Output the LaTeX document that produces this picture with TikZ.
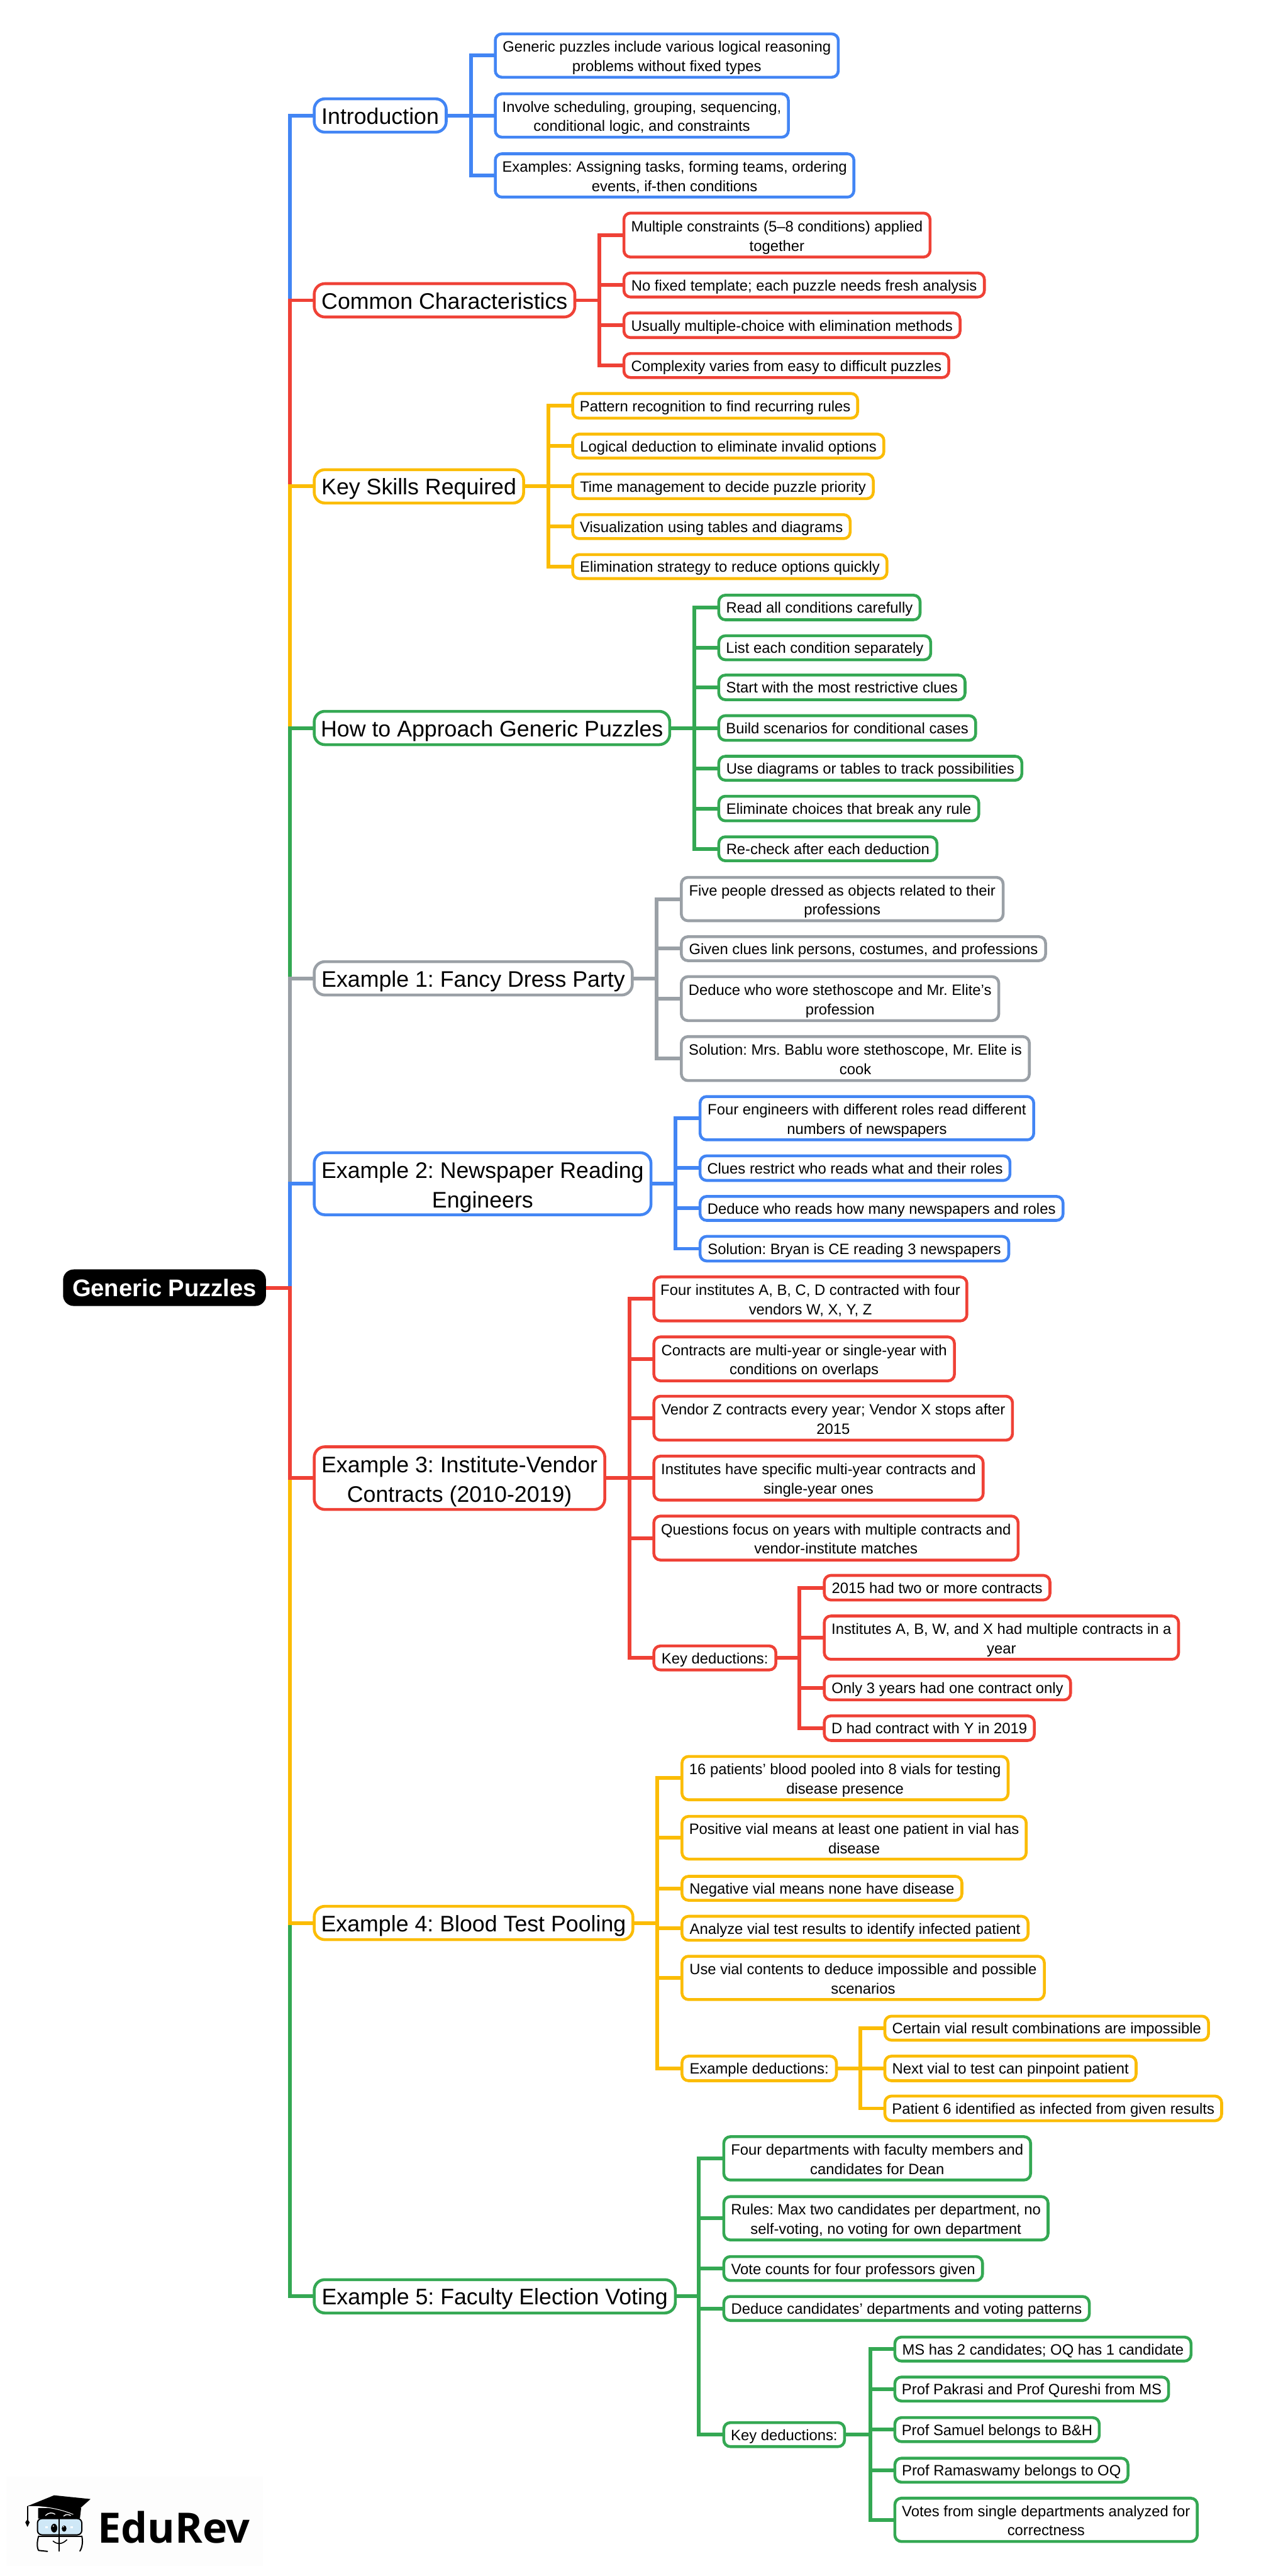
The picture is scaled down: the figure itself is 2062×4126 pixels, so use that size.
\documentclass[tikz,border=0pt]{standalone}
\usepackage{fontspec}
\setmainfont{Liberation Sans}
\newfontfamily\logofont{Open Sans}
\frenchspacing
\definecolor{cblue}{HTML}{4285F4}
\definecolor{cred}{HTML}{EF4136}
\definecolor{cyel}{HTML}{FBBC04}
\definecolor{cgrn}{HTML}{34A853}
\definecolor{cgry}{HTML}{9AA0A6}
\definecolor{lens}{HTML}{CFE8F7}
\definecolor{paleback}{HTML}{FDFDFD}
\newcommand\lnst{\rule[-.21\baselineskip]{0pt}{\baselineskip}}
\newcommand\tw{\rule{0pt}{.85\baselineskip}}
\newcommand\nl{\\\lnst}
\newcommand\bx[7]{\node[#2,minimum width={(#4-#3-4.6)*1pt},minimum height={(#6-#5-4.6)*1pt}] (#1) at ({(#3+#4)/2},{(#5+#6)/2}) {#7};}
\newcommand\lk[4]{\coordinate (busx) at (#4,0); \draw[link,#1] (#2.east) -- (busx |- #2.east) |- (#3.west);}
\tikzset{
  x=1pt,y=-1pt,
  basebox/.style={draw,fill=white,line width=4.6pt,inner sep=0pt,outer sep=0pt,align=center,text=black,execute at begin node=\lnst},
  mainbox/.style={basebox,rounded corners=17pt,font=\fontsize{36}{47}\selectfont},
  leaf/.style={basebox,rounded corners=10.5pt,font=\fontsize{24}{31}\selectfont},
  rootbox/.style={fill=black,text=white,rounded corners=17pt,inner sep=0pt,outer sep=0pt,font=\fontsize{38.5}{47}\bfseries\selectfont,execute at begin node=\lnst},
  link/.style={line width=6pt},
  blueb/.style={draw=cblue},redb/.style={draw=cred},yelb/.style={draw=cyel},grnb/.style={draw=cgrn},gryb/.style={draw=cgry},
  logoline/.style={draw=black,line width=1.6pt,line cap=round}
}
\begin{document}
\begin{tikzpicture}
\path[use as bounding box] (0,0) rectangle (2062,4126);
% logo backdrop
\fill[fill=paleback] (10,3967) rectangle (421,4110);
% nodes
\node[rootbox,minimum width=325pt,minimum height=58.5pt] (root) at (263.5,2062.5) {Generic Puzzles};
\bx{intro}{mainbox,blueb}{501}{717}{156}{214}{Introduction}
\bx{common}{mainbox,redb}{501}{923}{452}{510}{Common Characteristics}
\bx{skills}{mainbox,yelb}{501}{841}{750}{808}{Key Skills Required}
\bx{howto}{mainbox,grnb}{501}{1075}{1137}{1195}{How to Approach Generic Puzzles}
\bx{exa}{mainbox,gryb}{501}{1015}{1538}{1596}{Example 1: Fancy Dress Party}
\bx{exb}{mainbox,blueb}{501}{1045}{1844}{1948}{\tw Example 2: Newspaper Reading\nl Engineers}
\bx{exc}{mainbox,redb}{501}{971}{2315}{2420}{\tw Example 3: Institute-Vendor\nl Contracts (2010-2019)}
\bx{exd}{mainbox,yelb}{501}{1016}{3051}{3109}{Example 4: Blood Test Pooling}
\bx{exe}{mainbox,grnb}{501}{1084}{3649}{3707}{Example 5: Faculty Election Voting}
% intro
\bx{ia}{leaf,blueb}{791}{1345}{52}{126}{\tw Generic puzzles include various logical reasoning\nl problems without fixed types}
\bx{ib}{leaf,blueb}{791}{1265}{148}{222}{\tw Involve scheduling, grouping, sequencing,\nl conditional logic, and constraints}
\bx{ic}{leaf,blueb}{791}{1370}{244}{318}{\tw Examples: Assigning tasks, forming teams, ordering\nl events, if-then conditions}
% common
\bx{ca}{leaf,redb}{997}{1492}{339}{414}{\tw Multiple constraints (5–8 conditions) applied\nl together}
\bx{cb}{leaf,redb}{997}{1579}{435}{478}{No fixed template; each puzzle needs fresh analysis}
\bx{cc}{leaf,redb}{997}{1540}{499}{543}{Usually multiple-choice with elimination methods}
\bx{cd}{leaf,redb}{997}{1522}{564}{607}{Complexity varies from easy to difficult puzzles}
% skills
\bx{ka}{leaf,yelb}{915}{1376}{628}{672}{Pattern recognition to find recurring rules}
\bx{kb}{leaf,yelb}{915}{1418}{693}{736}{Logical deduction to eliminate invalid options}
\bx{kc}{leaf,yelb}{915}{1401}{757}{801}{Time management to decide puzzle priority}
\bx{kd}{leaf,yelb}{915}{1364}{822}{865}{Visualization using tables and diagrams}
\bx{ke}{leaf,yelb}{915}{1423}{886}{929}{Elimination strategy to reduce options quickly}
% howto
\bx{ha}{leaf,grnb}{1149}{1476}{951}{995}{Read all conditions carefully}
\bx{hb}{leaf,grnb}{1149}{1493}{1016}{1059}{List each condition separately}
\bx{hc}{leaf,grnb}{1149}{1548}{1079}{1123}{Start with the most restrictive clues}
\bx{hd}{leaf,grnb}{1149}{1565}{1144}{1188}{Build scenarios for conditional cases}
\bx{he}{leaf,grnb}{1149}{1639}{1209}{1252}{Use diagrams or tables to track possibilities}
\bx{hf}{leaf,grnb}{1149}{1570}{1273}{1317}{Eliminate choices that break any rule}
\bx{hg}{leaf,grnb}{1149}{1503}{1338}{1381}{Re-check after each deduction}
% example 1
\bx{ea}{leaf,gryb}{1089}{1609}{1403}{1477}{\tw Five people dressed as objects related to their\nl professions}
\bx{eb}{leaf,gryb}{1089}{1677}{1498}{1541}{Given clues link persons, costumes, and professions}
\bx{ec}{leaf,gryb}{1089}{1602}{1562}{1637}{\tw Deduce who wore stethoscope and Mr. Elite’s\nl profession}
\bx{ed}{leaf,gryb}{1089}{1651}{1658}{1733}{\tw Solution: Mrs. Bablu wore stethoscope, Mr. Elite is\nl cook}
% example 2
\bx{na}{leaf,blueb}{1119}{1658}{1754}{1828}{\tw Four engineers with different roles read different\nl numbers of newspapers}
\bx{nb}{leaf,blueb}{1119}{1620}{1849}{1893}{Clues restrict who reads what and their roles}
\bx{nc}{leaf,blueb}{1119}{1705}{1914}{1957}{Deduce who reads how many newspapers and roles}
\bx{nd}{leaf,blueb}{1119}{1618}{1978}{2022}{Solution: Bryan is CE reading 3 newspapers}
% example 3
\bx{pa}{leaf,redb}{1045}{1551}{2043}{2118}{\tw Four institutes A, B, C, D contracted with four\nl vendors W, X, Y, Z}
\bx{pb}{leaf,redb}{1045}{1531}{2139}{2214}{\tw Contracts are multi-year or single-year with\nl conditions on overlaps}
\bx{pc}{leaf,redb}{1045}{1624}{2234}{2309}{\tw Vendor Z contracts every year; Vendor X stops after\nl 2015}
\bx{pd}{leaf,redb}{1045}{1577}{2330}{2405}{\tw Institutes have specific multi-year contracts and\nl single-year ones}
\bx{pe}{leaf,redb}{1045}{1633}{2426}{2501}{\tw Questions focus on years with multiple contracts and\nl vendor-institute matches}
\bx{pf}{leaf,redb}{1045}{1245}{2634}{2677}{Key deductions:}
\bx{qa}{leaf,redb}{1318}{1684}{2521}{2565}{2015 had two or more contracts}
\bx{qb}{leaf,redb}{1318}{1890}{2586}{2660}{\tw Institutes A, B, W, and X had multiple contracts in a\nl year}
\bx{qc}{leaf,redb}{1318}{1717}{2682}{2725}{Only 3 years had one contract only}
\bx{qd}{leaf,redb}{1318}{1659}{2746}{2790}{D had contract with Y in 2019}
% example 4
\bx{ba}{leaf,yelb}{1090}{1617}{2811}{2885}{\tw 16 patients’ blood pooled into 8 vials for testing\nl disease presence}
\bx{bb}{leaf,yelb}{1090}{1646}{2907}{2980}{\tw Positive vial means at least one patient in vial has\nl disease}
\bx{bc}{leaf,yelb}{1090}{1543}{3003}{3046}{Negative vial means none have disease}
\bx{bd}{leaf,yelb}{1090}{1649}{3067}{3110}{Analyze vial test results to identify infected patient}
\bx{be}{leaf,yelb}{1090}{1675}{3131}{3205}{\tw Use vial contents to deduce impossible and possible\nl scenarios}
\bx{bf}{leaf,yelb}{1090}{1342}{3291}{3335}{Example deductions:}
\bx{xa}{leaf,yelb}{1415}{1938}{3227}{3270}{Certain vial result combinations are impossible}
\bx{xb}{leaf,yelb}{1415}{1822}{3291}{3335}{Next vial to test can pinpoint patient}
\bx{xc}{leaf,yelb}{1415}{1959}{3355}{3399}{Patient 6 identified as infected from given results}
% example 5
\bx{fa}{leaf,grnb}{1157}{1653}{3420}{3494}{\tw Four departments with faculty members and\nl candidates for Dean}
\bx{fb}{leaf,grnb}{1157}{1681}{3516}{3590}{\tw Rules: Max two candidates per department, no\nl self-voting, no voting for own department}
\bx{fc}{leaf,grnb}{1157}{1576}{3612}{3655}{Vote counts for four professors given}
\bx{fd}{leaf,grnb}{1157}{1747}{3676}{3719}{Deduce candidates’ departments and voting patterns}
\bx{fe}{leaf,grnb}{1157}{1355}{3878}{3921}{Key deductions:}
\bx{ga}{leaf,grnb}{1431}{1910}{3741}{3784}{MS has 2 candidates; OQ has 1 candidate}
\bx{gb}{leaf,grnb}{1431}{1874}{3805}{3848}{Prof Pakrasi and Prof Qureshi from MS}
\bx{gc}{leaf,grnb}{1431}{1763}{3870}{3913}{Prof Samuel belongs to B\&H}
\bx{gd}{leaf,grnb}{1431}{1809}{3935}{3978}{Prof Ramaswamy belongs to OQ}
\bx{ge}{leaf,grnb}{1431}{1920}{3999}{4073}{\tw Votes from single departments analyzed for\nl correctness}
% root links: later ones overdraw the trunk
\lk{cblue}{root}{intro}{464}
\lk{cred}{root}{common}{464}
\lk{cyel}{root}{skills}{464}
\lk{cgrn}{root}{howto}{464}
\lk{cgry}{root}{exa}{464}
\lk{cblue}{root}{exb}{464}
\lk{cgrn}{root}{exe}{464}
\lk{cyel}{root}{exd}{464}
\lk{cred}{root}{exc}{464}
% branch links
\foreach \c in {ia,ib,ic}{\lk{cblue}{intro}{\c}{754}}
\foreach \c in {ca,cb,cc,cd}{\lk{cred}{common}{\c}{960}}
\foreach \c in {ka,kb,kc,kd,ke}{\lk{cyel}{skills}{\c}{878}}
\foreach \c in {ha,hb,hc,hd,he,hf,hg}{\lk{cgrn}{howto}{\c}{1112}}
\foreach \c in {ea,eb,ec,ed}{\lk{cgry}{exa}{\c}{1052}}
\foreach \c in {na,nb,nc,nd}{\lk{cblue}{exb}{\c}{1082}}
\foreach \c in {pa,pb,pc,pd,pe,pf}{\lk{cred}{exc}{\c}{1008}}
\foreach \c in {qa,qb,qc,qd}{\lk{cred}{pf}{\c}{1280}}
\foreach \c in {ba,bb,bc,bd,be,bf}{\lk{cyel}{exd}{\c}{1053}}
\foreach \c in {xa,xb,xc}{\lk{cyel}{bf}{\c}{1378}}
\foreach \c in {fa,fb,fc,fd,fe}{\lk{cgrn}{exe}{\c}{1119}}
\foreach \c in {ga,gb,gc,gd,ge}{\lk{cgrn}{fe}{\c}{1394}}
% logo
\fill[black] (61,4017) -- (130,4017) -- (128,4034) -- (61,4034) -- cycle;
\fill[black] (44,4014) -- (86.7,3996.7) -- (145,4002.7) -- (117.3,4027.3) .. controls (95,4018) and (70,4014) .. (44,4014) -- cycle;
\draw[white,line width=1pt] (47,4014.5) .. controls (70,4014) and (95,4018) .. (117.3,4027.3);
\draw[white,line width=1.4pt,line cap=round] (73,4029) .. controls (78,4024) and (84,4024) .. (88,4027);
\draw[white,line width=1.4pt,line cap=round] (102,4030) .. controls (105,4027) and (110,4027) .. (113,4029);
\draw[black,line width=1.8pt] (44,4014) -- (44,4036);
\fill[black] (40.5,4040) -- (44,4035) -- (47.5,4040) -- (44,4047.5) -- cycle;
\draw[draw=black,fill=lens,line width=2pt,rounded corners=7pt] (60,4034) rectangle (131,4060);
\draw[logoline,line width=2pt] (62,4062) .. controls (59,4070) and (59,4082) .. (62,4085) -- (76,4086.5);
\draw[logoline,line width=2pt] (62,4062) -- (131,4062);
\draw[logoline,line width=2pt] (131,4062) .. controls (133,4070) and (132,4080) .. (128,4086);
\draw[black,line width=2pt] (95,4033) -- (95,4087);
\fill[black] (86.7,4049.3) ellipse [x radius=5,y radius=7];
\fill[black] (102.7,4050) ellipse [x radius=3.8,y radius=5];
\fill[white] (85.5,4046) circle (1.2);
\fill[white] (101.7,4047) circle (1);
\fill[white] (73,4046) rectangle (77,4049.5);
\fill[white] (113,4046) rectangle (117,4049.5);
\draw[logoline] (85,4070) .. controls (92,4076) and (100,4075) .. (107,4068);
\node[inner sep=0pt,anchor=base west,font=\fontsize{67}{67}\logofont\bfseries\selectfont] (brand) at (156,4072.7) {EduRev};
\end{tikzpicture}
\end{document}
